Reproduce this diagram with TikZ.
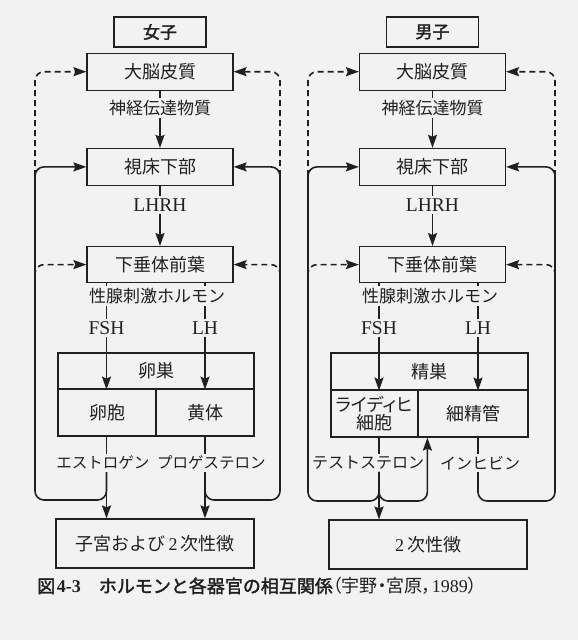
\documentclass[tikz,border=0pt]{standalone}
\usepackage{fontspec}
\usepackage{graphicx}
\setmainfont{Liberation Serif}
\newfontfamily\jp{Noto Sans CJK JP}
\newfontfamily\jpp[RawFeature=+palt]{Noto Sans CJK JP}
\newfontfamily\jpb[FakeBold=2]{Noto Sans CJK JP}
\usetikzlibrary{positioning,arrows.meta}
\definecolor{ink}{HTML}{202020}
\definecolor{paper}{gray}{0.95}
\newcommand{\fs}[1]{\fontsize{#1}{#1}\selectfont}

\begin{document}
\begin{tikzpicture}[
  x=1pt, y=-1pt,
  box/.style={draw=ink, line width=1.2pt, text=ink, inner sep=0pt, minimum width=146pt, minimum height=37pt, font=\jp\fs{18}},
  sexbox/.style={box, minimum width=92pt, minimum height=30pt, font=\jpb\fs{17}},
  cell/.style={box, minimum height=47pt},
  lab/.style={text=ink, inner sep=2pt, font=\jp\fs{17}},
  hor/.style={lab, font=\rmfamily\fs{19.5}},
  line/.style={draw=ink, line width=1.6pt},
  arr/.style={line, -{Stealth[length=13pt,width=9pt,inset=2pt]}},
  fb/.style={arr, rounded corners=9pt},
  dfb/.style={fb, dash pattern=on 6pt off 4pt}
]
  \fill[paper] (0,0) rectangle (578,640);
  \useasboundingbox (0,0) rectangle (578,640);

  % girls
  \node[sexbox] (sexL) at (160,32) {女子};
  \node[box, below=5pt of sexL] (cortexL) {大脳皮質};
  \node[box, below=57pt of cortexL] (hypL) {視床下部};
  \node[box, below=60pt of hypL, minimum height=36pt] (pitL) {下垂体前葉};
  \node[box, minimum width=196pt, minimum height=36pt] (ovary) at (156,371) {卵巣};
  \node[cell, minimum width=98pt] (follicle) at (107,412.5) {卵胞};
  \node[cell, minimum width=98pt] (luteum) at (205,412.5) {黄体};
  \node[box, minimum width=198pt, minimum height=49pt] (uterus) at (155,543.5) {子宮および\,{\rmfamily 2}\,次性徴};

  \node[lab] (ntL) at (cortexL |- 0,108) {神経伝達物質};
  \node[hor] (lhrhL) at (hypL |- 0,205) {LHRH};
  \node[lab] (gonL) at (157,296) {性腺刺激ホルモン};
  \node[hor] (fshL) at (106.5,328) {FSH};
  \node[hor] (lhL) at (205,328) {LH};
  \node[lab, font=\jp\fs{15.5}] (steroidL) at (161,463) {エストロゲン\hspace{8pt}プロゲステロン};
  \coordinate (outLL) at (35,500);
  \coordinate (outLR) at (280,500);

  \draw[line] (cortexL) -- (ntL);
  \draw[arr] (ntL) -- (hypL);
  \draw[line] (hypL) -- (lhrhL);
  \draw[arr] (lhrhL) -- (pitL);
  \draw[line] (pitL.south -| fshL) -- (gonL.north -| fshL);
  \draw[line] (gonL.south -| fshL) -- (fshL);
  \draw[arr] (fshL) -- (ovary.south -| fshL);
  \draw[line] (pitL.south -| lhL) -- (gonL.north -| lhL);
  \draw[line] (gonL.south -| lhL) -- (lhL);
  \draw[arr] (lhL) -- (ovary.south -| lhL);
  \draw[line] (follicle.south -| fshL) -- (steroidL.north -| fshL);
  \draw[arr] (steroidL.south -| fshL) -- (uterus.north -| fshL);
  \draw[line] (luteum.south -| lhL) -- (steroidL.north -| lhL);
  \draw[arr] (steroidL.south -| lhL) -- (uterus.north -| lhL);
  \draw[fb] (steroidL.south -| fshL) |- (outLL) |- (hypL.west);
  \draw[fb] (steroidL.south -| lhL) |- (outLR) |- (hypL.east);
  \draw[dfb] (outLL |- hypL.south) |- (cortexL.west);
  \draw[dfb] (outLL |- gonL) |- (pitL.west);
  \draw[dfb] (outLR |- hypL.south) |- (cortexL.east);
  \draw[dfb] (outLR |- gonL) |- (pitL.east);

  % boys
  \node[sexbox] (sexR) at (432.5,32) {男子};
  \node[box, below=5pt of sexR] (cortexR) {大脳皮質};
  \node[box, below=57pt of cortexR] (hypR) {視床下部};
  \node[box, below=60pt of hypR, minimum height=36pt] (pitR) {下垂体前葉};
  \node[box, minimum width=197pt, minimum height=37pt] (testis) at (429.5,371.5) {精巣};
  \node[cell, minimum width=87pt, align=center] (leydig) at (374.5,413.5) {{\jpp ライディヒ}\\細胞};
  \node[cell, minimum width=110pt] (tubule) at (473,413.5) {細精管};
  \node[box, minimum width=198pt, minimum height=49pt] (secR) at (428,544.5) {{\rmfamily 2}\,次性徴};

  \node[lab] (ntR) at (cortexR |- 0,108) {神経伝達物質};
  \node[hor] (lhrhR) at (hypR |- 0,205) {LHRH};
  \node[lab] (gonR) at (430,296) {性腺刺激ホルモン};
  \node[hor] (fshR) at (379,328) {FSH};
  \node[hor] (lhR) at (478,328) {LH};
  \node[lab, font=\jp\fs{16}] (testo) at (368,463) {テストステロン};
  \node[lab, font=\jp\fs{16}] (inhib) at (480,463) {インヒビン};
  \coordinate (outRL) at (308,501);
  \coordinate (outRR) at (555,501);
  \coordinate (upR) at ([xshift=10pt]tubule.south west);

  \draw[line] (cortexR) -- (ntR);
  \draw[arr] (ntR) -- (hypR);
  \draw[line] (hypR) -- (lhrhR);
  \draw[arr] (lhrhR) -- (pitR);
  \draw[line] (pitR.south -| fshR) -- (gonR.north -| fshR);
  \draw[line] (gonR.south -| fshR) -- (fshR);
  \draw[arr] (fshR) -- (testis.south -| fshR);
  \draw[line] (pitR.south -| lhR) -- (gonR.north -| lhR);
  \draw[line] (gonR.south -| lhR) -- (lhR);
  \draw[arr] (lhR) -- (testis.south -| lhR);
  \draw[line] (leydig.south -| fshR) -- (testo.north -| fshR);
  \draw[arr] (testo.south -| fshR) -- (secR.north -| fshR);
  \draw[fb] (testo.south -| fshR) |- (outRL) |- (hypR.west);
  \draw[fb] (testo.south -| fshR) |- (outRL -| upR) -- (upR);
  \draw[line] (tubule.south -| lhR) -- (inhib.north -| lhR);
  \draw[fb] (inhib.south -| lhR) |- (outRR) |- (hypR.east);
  \draw[dfb] (outRL |- hypR.south) |- (cortexR.west);
  \draw[dfb] (outRL |- gonR) |- (pitR.west);
  \draw[dfb] (outRR |- hypR.south) |- (cortexR.east);
  \draw[dfb] (outRR |- gonR) |- (pitR.east);

  % caption
  \node[anchor=west, inner sep=0pt, text=ink] (caption) at (37,586) {{\jpb\fs{18}図}\,{\bfseries\fs{18}4-3}\hspace{18pt}{\jpb\fs{18}ホルモンと各器官の相互関係}{\jpp\fs{18}（宇野・宮原，{\rmfamily 1989}）}};
\end{tikzpicture}
\end{document}
